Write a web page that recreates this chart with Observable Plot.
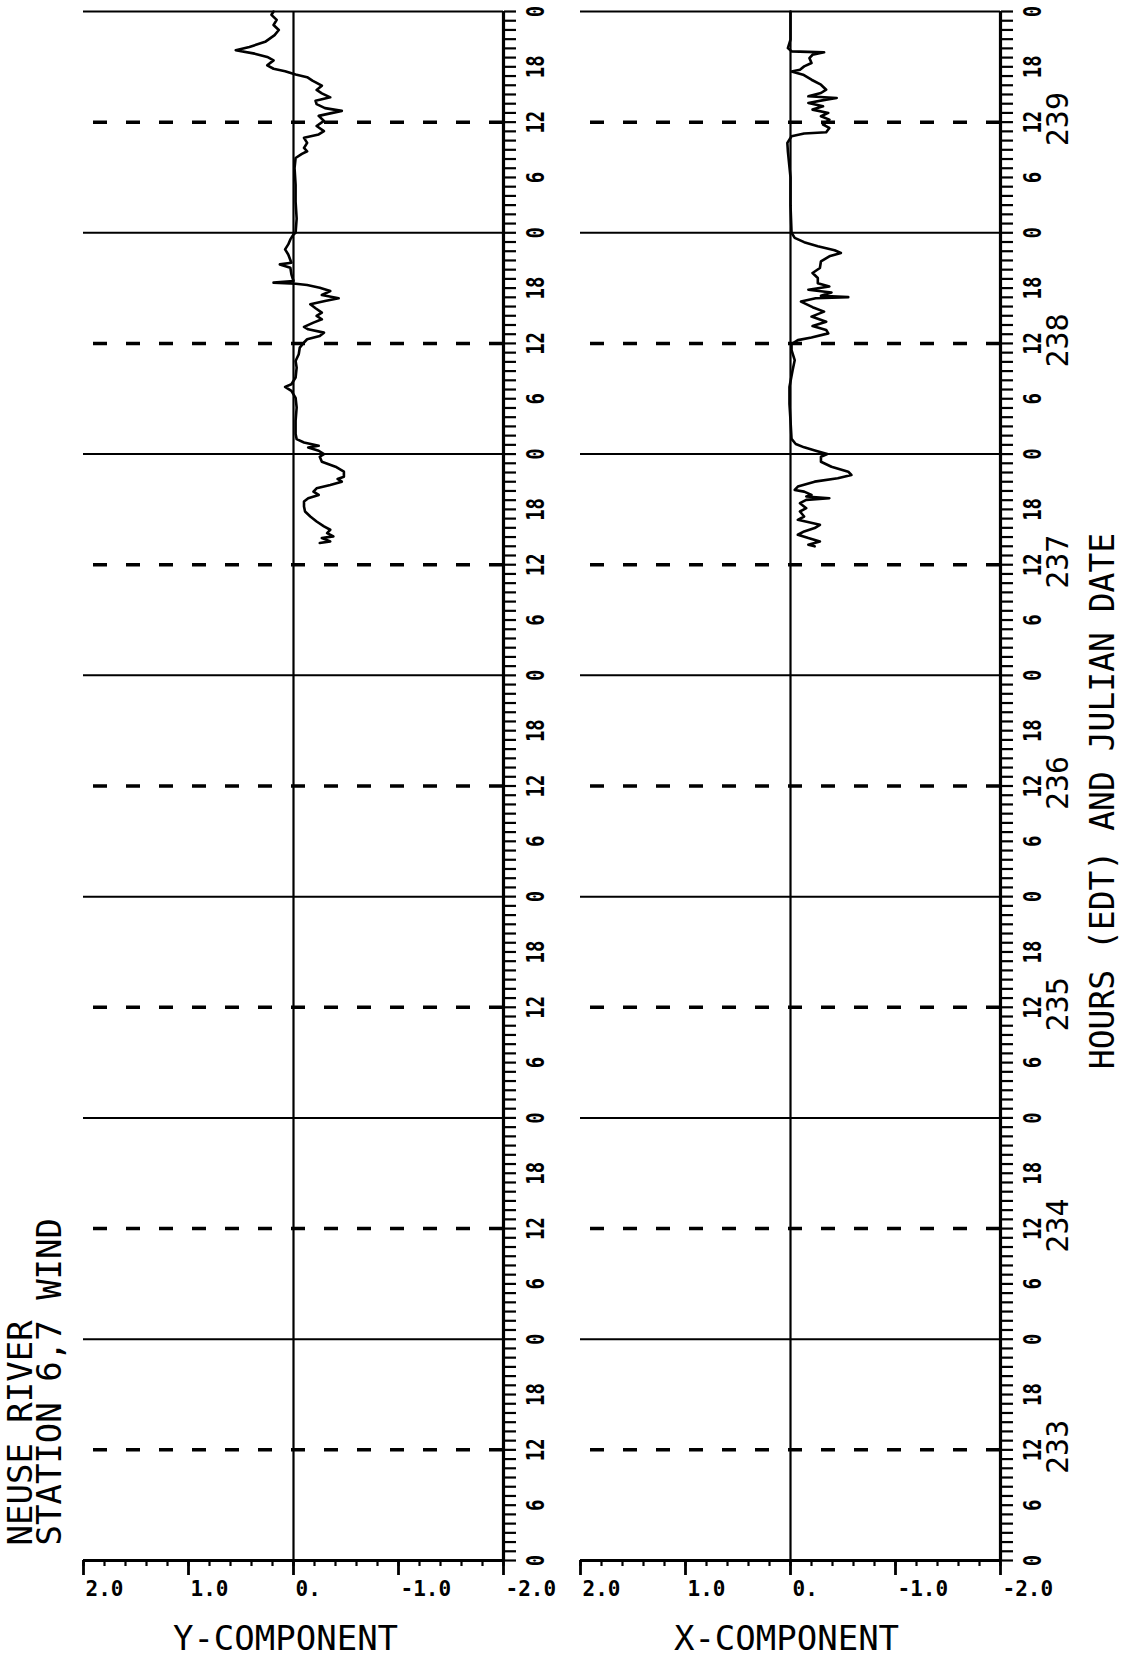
<!DOCTYPE html>
<html><head><meta charset="utf-8">
<script src="https://cdn.jsdelivr.net/npm/d3@7"></script>
<script src="https://cdn.jsdelivr.net/npm/@observablehq/plot@0.6"></script>
<style>
html,body{margin:0;padding:0;background:#fff;}
#chart{display:flex;width:1124px;height:1660px;}
#chart svg{display:block;flex:none;}
</style></head><body><div id="chart"></div>
<script>
// ---- data ----
const julianDays = [233, 234, 235, 236, 237, 238, 239];
const hourLabels = [0, 6, 12, 18];
const valueTicks = [2, 1, 0, -1, -2];
const valueTickLabels = ["2.0", "1.0", "0.", "-1.0", "-2.0"];
const titleLines = ["NEUSE RIVER", "STATION 6,7 WIND"];
const timeAxisTitle = "HOURS (EDT) AND JULIAN DATE";
const panelTitles = ["Y-COMPONENT", "X-COMPONENT"];

// [julian day, hour (EDT), value]
const yComponent = [
  [237,14.35,-0.25],[237,14.53,-0.35],[237,14.89,-0.27],[237,15.07,-0.38],[237,15.43,-0.32],[237,15.79,-0.35],
  [237,16.15,-0.29],[237,16.69,-0.22],[237,17.23,-0.16],[237,17.77,-0.11],[237,18.31,-0.10],[237,18.85,-0.10],
  [237,19.21,-0.14],[237,19.57,-0.24],[237,19.93,-0.19],[237,20.29,-0.22],[237,20.65,-0.35],[237,21.01,-0.46],
  [237,21.3,-0.42],[237,21.55,-0.48],[237,22.09,-0.48],[237,22.63,-0.40],[237,23.17,-0.27],[237,23.71,-0.25],
  [238,0.0,-0.29],[238,0.36,-0.24],[238,0.72,-0.14],[238,0.9,-0.24],[238,1.26,-0.10],[238,1.62,-0.03],
  [238,2.17,-0.02],[238,3.6,-0.02],[238,5.05,-0.03],[238,6.1,-0.02],[238,6.86,0.02],[238,7.29,0.08],
  [238,7.58,0.02],[238,8.3,-0.02],[238,9.38,-0.03],[238,10.1,-0.02],[238,10.83,-0.05],[238,11.55,-0.06],
  [238,12.1,-0.10],[238,12.45,-0.13],[238,12.81,-0.25],[238,13.17,-0.29],[238,13.53,-0.14],[238,13.79,-0.10],
  [238,14.26,-0.19],[238,14.62,-0.27],[238,14.98,-0.22],[238,15.34,-0.27],[238,15.81,-0.21],[238,16.24,-0.16],
  [238,16.6,-0.30],[238,16.9,-0.43],[238,17.25,-0.27],[238,17.68,-0.35],[238,18.04,-0.25],[238,18.33,-0.13],
  [238,18.48,-0.02],[238,18.59,0.19],[238,18.77,0.0],[238,19.49,0.02],[238,20.2,0.03],[238,20.57,0.13],
  [238,20.75,0.02],[238,21.65,0.05],[238,22.2,0.08],[238,22.74,0.05],[238,23.28,0.03],[238,23.82,0.0],
  [239,0.0,-0.02],[239,1.53,-0.03],[239,3.36,-0.02],[239,5.19,-0.02],[239,7.01,-0.01],[239,8.11,-0.02],
  [239,8.55,-0.08],[239,8.84,-0.13],[239,9.2,-0.10],[239,9.75,-0.13],[239,10.3,-0.10],[239,10.67,-0.24],
  [239,11.03,-0.29],[239,11.58,-0.22],[239,12.13,-0.29],[239,12.68,-0.24],[239,13.22,-0.46],[239,13.52,-0.30],
  [239,13.95,-0.22],[239,14.32,-0.21],[239,14.69,-0.35],[239,15.12,-0.27],[239,15.49,-0.22],[239,15.96,-0.27],
  [239,16.51,-0.18],[239,16.88,-0.13],[239,17.17,-0.02],[239,17.53,0.08],[239,17.79,0.19],[239,18.16,0.25],
  [239,18.7,0.19],[239,19.07,0.25],[239,19.43,0.37],[239,19.8,0.55],[239,20.16,0.42],[239,20.71,0.27],
  [239,21.44,0.18],[239,21.99,0.14],[239,22.54,0.19],[239,23.09,0.16],[239,23.64,0.21],[240,0.0,0.19]
];

const xComponent = [
  [237,13.99,-0.23],[237,14.17,-0.17],[237,14.53,-0.28],[237,14.89,-0.17],[237,15.25,-0.07],[237,15.61,-0.13],
  [237,15.97,-0.23],[237,16.33,-0.28],[237,16.87,-0.07],[237,17.23,-0.13],[237,17.77,-0.09],[237,18.13,-0.15],
  [237,18.67,-0.09],[237,19.03,-0.15],[237,19.21,-0.37],[237,19.4,-0.15],[237,19.57,-0.20],[237,19.93,-0.13],
  [237,20.11,-0.04],[237,20.47,-0.07],[237,21.01,-0.23],[237,21.37,-0.45],[237,21.73,-0.58],[237,22.09,-0.55],
  [237,22.63,-0.39],[237,23.17,-0.29],[237,23.71,-0.29],
  [238,0.0,-0.35],[238,0.36,-0.24],[238,0.73,-0.13],[238,1.09,-0.05],[238,1.64,-0.01],[238,3.64,0.0],
  [238,5.45,0.01],[238,7.27,0.01],[238,9.09,-0.02],[238,10.18,-0.04],[238,11.27,-0.01],[238,11.93,-0.01],
  [238,12.36,-0.07],[238,12.65,-0.20],[238,13.09,-0.36],[238,13.45,-0.34],[238,13.89,-0.21],[238,14.36,-0.34],
  [238,14.91,-0.20],[238,15.45,-0.32],[238,15.93,-0.21],[238,16.54,-0.10],[238,16.9,-0.24],[238,17.02,-0.55],
  [238,17.16,-0.29],[238,17.53,-0.39],[238,17.82,-0.17],[238,18.18,-0.37],[238,18.54,-0.26],[238,19.09,-0.26],
  [238,19.64,-0.21],[238,20.18,-0.28],[238,20.91,-0.29],[238,21.45,-0.37],[238,21.82,-0.48],[238,22.11,-0.42],
  [238,22.55,-0.26],[238,22.98,-0.13],[238,23.45,-0.04],
  [239,0.0,-0.01],[239,3.0,0.0],[239,6.0,0.0],[239,8.84,0.025],[239,9.75,0.03],[239,10.47,-0.01],
  [239,10.76,-0.13],[239,10.9,-0.34],[239,11.37,-0.37],[239,11.73,-0.31],[239,12.27,-0.37],[239,12.64,-0.29],
  [239,13.0,-0.36],[239,13.36,-0.21],[239,13.72,-0.31],[239,14.08,-0.17],[239,14.44,-0.34],[239,14.62,-0.44],
  [239,14.8,-0.17],[239,15.16,-0.29],[239,15.52,-0.34],[239,16.06,-0.29],[239,16.6,-0.20],[239,17.15,-0.12],
  [239,17.5,-0.01],[239,17.69,-0.09],[239,18.05,-0.13],[239,18.41,-0.20],[239,18.95,-0.18],[239,19.31,-0.21],
  [239,19.57,-0.32],[239,19.68,-0.01],[239,20.03,0.025],[239,20.94,0.0],[240,0.0,0.0]
];

// ---- drawing ----
const FONT = "DejaVu Sans Mono, monospace";
const startDay = julianDays[0];
const nDays = julianDays.length;
const toHours = (d, h) => (d - startDay) * 24 + h;
const dayLines = d3.range(0, nDays * 24 + 1, 24);
const halfDayLines = julianDays.map(d => toHours(d, 12));
const hourTicks = d3.range(0, nDays * 24 + 1, 1);
const hourLabelRows = julianDays
  .flatMap(d => hourLabels.map(h => ({t: toHours(d, h), label: String(h)})))
  .concat([{t: nDays * 24, label: String(hourLabels[0])}]);
const minorValueTicks = d3.range(-10, 11).map(i => i / 5);

function panel({data, width, marginLeft, marginRight, title, titleDx, showJulian, showStation}) {
  const rows = data.map(([d, h, v]) => ({t: toHours(d, h), v}));
  const marks = [
    Plot.ruleY(dayLines, {strokeWidth: 2}),
    Plot.ruleY(halfDayLines, {x1: -2, x2: 2, strokeWidth: 3.5, strokeDasharray: "14,19"}),
    Plot.ruleX([0], {strokeWidth: 2.2}),
    Plot.ruleX([-2], {strokeWidth: 3.2}),
    Plot.ruleY([0], {strokeWidth: 2.8}),
    Plot.axisY({anchor: "right", ticks: hourTicks, tickSize: 12, tickFormat: () => "", strokeWidth: 2.2, label: null}),
    Plot.axisX({anchor: "bottom", ticks: minorValueTicks, tickSize: 6, tickFormat: () => "", strokeWidth: 2.2, label: null}),
    Plot.axisX({anchor: "bottom", ticks: valueTicks, tickSize: 15, tickFormat: () => "", strokeWidth: 2.8, label: null}),
    Plot.text(valueTicks, {x: d => d, frameAnchor: "bottom", text: (d, i) => valueTickLabels[i],
      dx: 2, dy: 29, textAnchor: "start", lineAnchor: "middle", fontSize: 21, fontWeight: "bold", fontFamily: FONT}),
    Plot.text(hourLabelRows, {y: "t", text: "label", frameAnchor: "right", dx: 33, rotate: -90,
      textAnchor: "middle", lineAnchor: "middle", fontSize: 19, fontWeight: "bold", fontFamily: FONT}),
    Plot.text([title], {frameAnchor: "bottom", dx: titleDx, dy: 79, lineAnchor: "middle", fontSize: 34, fontFamily: FONT}),
    Plot.line(rows, {x: "v", y: "t", strokeWidth: 2.6, strokeLinejoin: "round"})
  ];
  if (showJulian) {
    marks.push(
      Plot.text(julianDays, {y: d => toHours(d, 12), text: d => String(d), frameAnchor: "right", dx: 58, dy: -3,
        rotate: -90, textAnchor: "middle", lineAnchor: "middle", fontSize: 30, fontFamily: FONT}),
      Plot.text([timeAxisTitle], {frameAnchor: "right", dx: 103, dy: 15, rotate: -90,
        textAnchor: "middle", lineAnchor: "middle", fontSize: 33, fontFamily: FONT})
    );
  }
  if (showStation) {
    marks.push(
      Plot.text([titleLines[0]], {frameAnchor: "bottom-left", dx: -62, dy: -15, rotate: -90,
        textAnchor: "start", lineAnchor: "middle", fontSize: 34, fontFamily: FONT}),
      Plot.text([titleLines[1]], {frameAnchor: "bottom-left", dx: -33, dy: -15, rotate: -90,
        textAnchor: "start", lineAnchor: "middle", fontSize: 34, fontFamily: FONT})
    );
  }
  const svg = Plot.plot({
    width, height: 1660,
    marginTop: 11, marginBottom: 100, marginLeft, marginRight,
    style: {background: "white", color: "black", overflow: "visible"},
    x: {domain: [2, -2]},
    y: {domain: [0, nDays * 24]},
    marks
  });
  // plotter-style tall narrow hour digits
  svg.querySelectorAll('g[font-size="19"] text').forEach(el => {
    const tr = el.getAttribute("transform") || "";
    el.setAttribute("transform", tr + " scale(1,1.3)");
  });
  return svg;
}

const chart = document.getElementById("chart");
chart.append(
  panel({data: yComponent, width: 562, marginLeft: 83, marginRight: 59, title: panelTitles[0], titleDx: -8, showJulian: false, showStation: true}),
  panel({data: xComponent, width: 562, marginLeft: 18, marginRight: 124, title: panelTitles[1], titleDx: -4, showJulian: true, showStation: false})
);
</script></body></html>
